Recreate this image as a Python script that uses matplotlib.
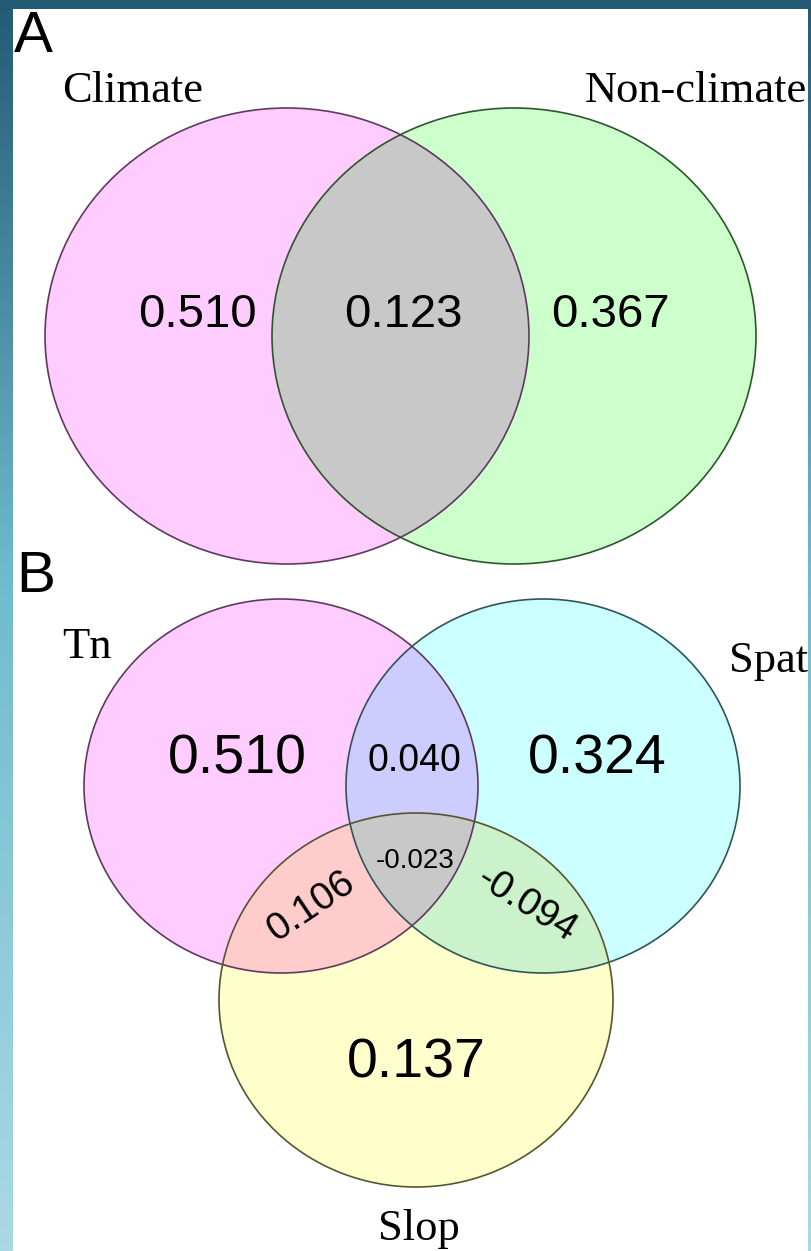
import numpy as np
import matplotlib
matplotlib.use("Agg")
import matplotlib.pyplot as plt
from matplotlib.patches import Ellipse, Rectangle
from matplotlib.colors import LinearSegmentedColormap, to_rgb

# --- data ---
labels_a = ["Climate", "Non-climate"]
# climate only, shared, non-climate only
values_a = [0.510, 0.123, 0.367]

labels_b = ["Tn", "Spat", "Slop"]
# Tn only, Spat only, Slop only, Tn&Spat, Tn&Slop, Spat&Slop, all three
values_b = [0.510, 0.324, 0.137, 0.040, 0.106, -0.094, -0.023]

W, H = 811, 1251

# --- layout (pixel space) ---
ell_a = [(287, 336), (514, 336)]
size_a = (484, 456)
ell_b = [(281, 786), (543, 786), (416, 1000)]
size_b = (394, 374)

fill_a = {(1, 0): "#ffccff", (0, 1): "#ccffcc", (1, 1): "#c8c8c8"}
fill_b = {(1, 0, 0): "#ffccff", (0, 1, 0): "#ccffff", (0, 0, 1): "#ffffcc",
          (1, 1, 0): "#ccccff", (1, 0, 1): "#ffcccc", (0, 1, 1): "#ccf2cc",
          (1, 1, 1): "#c8c8c8"}
edge_a = ["#5e3a5e", "#2f552f"]
edge_b = ["#5e3a5e", "#2f5555", "#55552f"]

fig = plt.figure(figsize=(W / 100, H / 100), dpi=100)
ax = fig.add_axes([0, 0, 1, 1])
ax.set_xlim(0, W)
ax.set_ylim(H, 0)
ax.axis("off")

# blue slide border
cmap = LinearSegmentedColormap.from_list(
    "border", [(0, "#245a74"), (0.46, "#6fbbce"), (1, "#aad9e3")])
grad = np.linspace(0, 1, 256)[:, None]
ax.imshow(grad, cmap=cmap, extent=(0, W, H, 0), aspect="auto", zorder=0)
ax.add_patch(Rectangle((13, 9), 795, H, facecolor="white", edgecolor="none", zorder=1))

# region fills
X, Y = np.meshgrid(np.arange(W) + 0.5, np.arange(H) + 0.5)
img = np.zeros((H, W, 4))


def paint(centres, size, fills):
    a, b = size[0] / 2, size[1] / 2
    inside = [((X - cx) / a) ** 2 + ((Y - cy) / b) ** 2 <= 1 for cx, cy in centres]
    for key, col in fills.items():
        m = np.ones_like(X, dtype=bool)
        for i, k in enumerate(key):
            m &= inside[i] if k else ~inside[i]
        img[m] = (*to_rgb(col), 1.0)


paint(ell_a, size_a, fill_a)
paint(ell_b, size_b, fill_b)
ax.imshow(img, extent=(0, W, H, 0), interpolation="nearest", aspect="auto", zorder=2)

for (cx, cy), ec in zip(ell_a, edge_a):
    ax.add_patch(Ellipse((cx, cy), *size_a, fill=False, edgecolor=ec, lw=1.2, zorder=3))
for (cx, cy), ec in zip(ell_b, edge_b):
    ax.add_patch(Ellipse((cx, cy), *size_b, fill=False, edgecolor=ec, lw=1.2, zorder=3))

sans = "Liberation Sans"
serif = "Liberation Serif"
fmt = lambda v: f"{v:.3f}"

# panel letters and set names
ax.text(14, 52, "A", fontsize=42, family=sans, va="baseline", zorder=4)
ax.text(16, 592, "B", fontsize=42, family=sans, va="baseline", zorder=4)
ax.text(62, 102, labels_a[0], fontsize=32, family=serif, va="baseline", zorder=4)
ax.text(585, 102, labels_a[1], fontsize=32, family=serif, va="baseline", zorder=4)
ax.text(62, 658, labels_b[0], fontsize=32, family=serif, va="baseline", zorder=4)
ax.text(729, 672, labels_b[1], fontsize=32, family=serif, va="baseline", zorder=4)
ax.text(419, 1240, labels_b[2], fontsize=32, family=serif, ha="center", va="baseline", zorder=4)

# panel A values
for x, v in zip([197, 403, 610], values_a):
    ax.text(x, 327, fmt(v), fontsize=34, family=sans, ha="center", va="baseline", zorder=4)

# panel B values
pos_b = [(237, 774), (597, 774), (416, 1078), (414, 771), (311, 906), (526, 905), (415, 868)]
size_txt = [40, 40, 40, 27, 28, 28, 20]
rot_b = [0, 0, 0, 0, 34, -32, 0]
for (x, y), v, fs, r in zip(pos_b, values_b, size_txt, rot_b):
    va = "center" if r else "baseline"
    ax.text(x, y, fmt(v), fontsize=fs, family=sans, ha="center", va=va,
            rotation=r, rotation_mode="anchor", zorder=4)

fig.savefig("out.png", dpi=100)
